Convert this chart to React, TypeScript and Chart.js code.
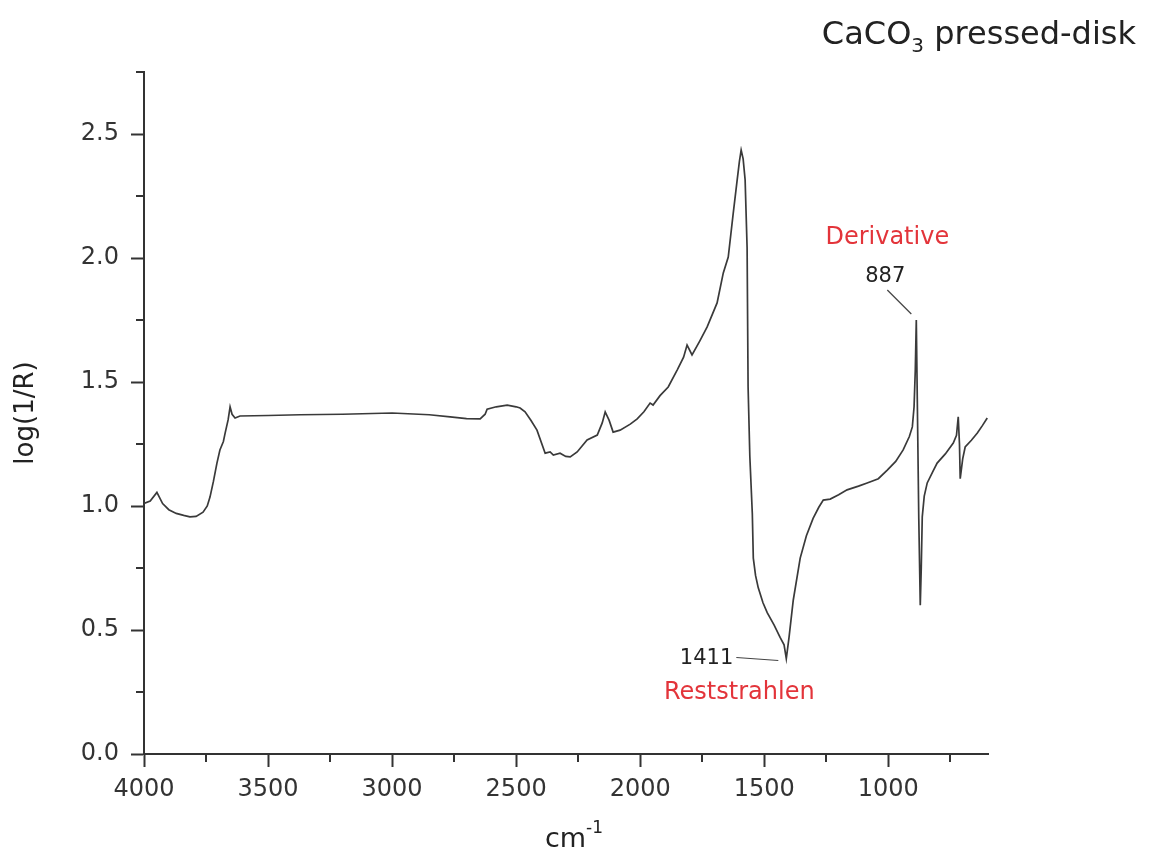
import React, { useEffect, useRef } from 'react';
import { Chart, registerables } from 'chart.js';

Chart.register(...registerables);

// ---- data ----
const wavenumbers = [
  4000, 3975, 3948, 3925, 3900, 3870, 3840, 3815, 3790, 3762, 3745, 3734, 3720, 3706, 3694, 3680,
  3673, 3661, 3653, 3645, 3633, 3613, 3500, 3371, 3200, 3000, 2850, 2766, 2700, 2645, 2625, 2617,
  2580, 2536, 2500, 2484, 2464, 2440, 2416, 2383, 2363, 2350, 2323, 2300, 2282, 2254, 2214, 2173,
  2153, 2141, 2125, 2109, 2081, 2040, 2012, 1985, 1960, 1948, 1920, 1887, 1850, 1825, 1811, 1791,
  1760, 1730, 1690, 1665, 1645, 1625, 1609, 1600, 1593, 1585, 1577, 1569, 1565, 1558, 1548, 1544,
  1535, 1524, 1505, 1488, 1460, 1436, 1420, 1411, 1400, 1383, 1355, 1330, 1303, 1280, 1262, 1234,
  1200, 1166, 1120, 1085, 1040, 1004, 970, 940, 915, 903, 896, 891, 887, 883, 877, 871, 867, 863,
  855, 843, 820, 803, 770, 738, 725, 718, 713, 710, 700, 690, 665, 641, 620, 601,
];
const logInvR = [
  1.01, 1.02, 1.055, 1.01, 0.985, 0.97, 0.962, 0.956, 0.958, 0.975, 1.0, 1.036, 1.1, 1.173, 1.226, 1.26,
  1.294, 1.347, 1.4, 1.37, 1.355, 1.363, 1.365, 1.368, 1.37, 1.375, 1.368, 1.359, 1.352, 1.351, 1.37, 1.39,
  1.4, 1.407, 1.4, 1.395, 1.38, 1.345, 1.306, 1.213, 1.218, 1.205, 1.213, 1.2, 1.198, 1.218, 1.266, 1.286,
  1.335, 1.379, 1.345, 1.298, 1.306, 1.33, 1.351, 1.38, 1.415, 1.407, 1.445, 1.48, 1.55, 1.6, 1.649, 1.609,
  1.665, 1.722, 1.819, 1.94, 2.004, 2.18, 2.315, 2.39, 2.435, 2.4, 2.315, 2.04, 1.48, 1.2, 0.97, 0.79,
  0.72, 0.67, 0.61, 0.57, 0.52, 0.47, 0.44, 0.385, 0.47, 0.62, 0.79, 0.88, 0.95, 0.995, 1.024, 1.028,
  1.045, 1.065, 1.08, 1.093, 1.11, 1.145, 1.18, 1.226, 1.28, 1.319, 1.4, 1.55, 1.75, 1.43, 0.95, 0.6, 0.75, 0.956,
  1.04, 1.093, 1.14, 1.173, 1.21, 1.254, 1.285, 1.36, 1.25, 1.11, 1.19, 1.238, 1.265, 1.294, 1.325, 1.355,
];

const xMajorTicks = [4000, 3500, 3000, 2500, 2000, 1500, 1000];
const yMajorTicks = [0, 0.5, 1.0, 1.5, 2.0, 2.5];

const peakDerivative = { wn: 887, value: 1.75, label: '887', note: 'Derivative' };
const peakReststrahlen = { wn: 1411, value: 0.385, label: '1411', note: 'Reststrahlen' };

const titleMain = 'CaCO';
const titleSub = '3';
const titleRest = ' pressed-disk';
const xTitle = 'cm';
const xTitleSup = '-1';
const yTitle = 'log(1/R)';

const FONT = 'DejaVu Sans';
const AXIS = '#333333';
const RED = '#e3343a';

const isMajor = (list: number[], v: number) => list.some((m) => Math.abs(m - v) < 1e-6);

const overlayPlugin = {
  id: 'overlay',
  afterDraw(chart: any) {
    const { ctx, chartArea, scales } = chart;
    const x = scales.x;
    const y = scales.y;
    ctx.save();

    // minor ticks
    ctx.strokeStyle = AXIS;
    ctx.lineWidth = 2;
    ctx.beginPath();
    x.ticks.forEach((t: any) => {
      if (!isMajor(xMajorTicks, t.value)) {
        const px = Math.round(x.getPixelForValue(t.value));
        ctx.moveTo(px, chartArea.bottom);
        ctx.lineTo(px, chartArea.bottom + 8);
      }
    });
    y.ticks.forEach((t: any) => {
      if (!isMajor(yMajorTicks, t.value)) {
        const py = Math.round(y.getPixelForValue(t.value));
        ctx.moveTo(chartArea.left, py);
        ctx.lineTo(chartArea.left - 8, py);
      }
    });
    ctx.stroke();

    // annotation: derivative peak
    {
      const px = x.getPixelForValue(peakDerivative.wn);
      const py = y.getPixelForValue(peakDerivative.value);
      ctx.strokeStyle = '#444';
      ctx.lineWidth = 1.2;
      ctx.beginPath();
      ctx.moveTo(px - 29, py - 30);
      ctx.lineTo(px - 5, py - 6);
      ctx.stroke();
      ctx.textAlign = 'center';
      ctx.textBaseline = 'middle';
      ctx.fillStyle = '#222';
      ctx.font = `21px "${FONT}"`;
      ctx.fillText(peakDerivative.label, px - 31, py - 43);
      ctx.fillStyle = RED;
      ctx.font = `24px "${FONT}"`;
      ctx.fillText(peakDerivative.note, px - 29, py - 82);
    }
    // annotation: reststrahlen minimum
    {
      const px = x.getPixelForValue(peakReststrahlen.wn);
      const py = y.getPixelForValue(peakReststrahlen.value);
      ctx.strokeStyle = '#444';
      ctx.lineWidth = 1.2;
      ctx.beginPath();
      ctx.moveTo(px - 50, py - 1);
      ctx.lineTo(px - 8, py + 2);
      ctx.stroke();
      ctx.textAlign = 'right';
      ctx.textBaseline = 'middle';
      ctx.fillStyle = '#222';
      ctx.font = `21px "${FONT}"`;
      ctx.fillText(peakReststrahlen.label, px - 53, py);
      ctx.textAlign = 'center';
      ctx.fillStyle = RED;
      ctx.font = `24px "${FONT}"`;
      ctx.fillText(peakReststrahlen.note, px - 47, py + 34);
    }

    // title (top right)
    {
      ctx.fillStyle = '#222';
      ctx.textBaseline = 'alphabetic';
      ctx.textAlign = 'left';
      const big = `32px "${FONT}"`;
      const small = `20px "${FONT}"`;
      ctx.font = big;
      const w1 = ctx.measureText(titleMain).width;
      const w3 = ctx.measureText(titleRest).width;
      ctx.font = small;
      const w2 = ctx.measureText(titleSub).width;
      const right = 1136;
      let cx = right - (w1 + w2 + w3);
      const base = 44;
      ctx.font = big;
      ctx.fillText(titleMain, cx, base);
      cx += w1;
      ctx.font = small;
      ctx.fillText(titleSub, cx, base + 8);
      cx += w2;
      ctx.font = big;
      ctx.fillText(titleRest, cx, base);
    }

    // x-axis title with superscript
    {
      ctx.fillStyle = '#222';
      ctx.textBaseline = 'alphabetic';
      ctx.textAlign = 'left';
      const big = `27px "${FONT}"`;
      const small = `17px "${FONT}"`;
      ctx.font = big;
      const w1 = ctx.measureText(xTitle).width;
      ctx.font = small;
      const w2 = ctx.measureText(xTitleSup).width;
      const center = 574;
      let cx = center - (w1 + w2) / 2;
      const base = 847;
      ctx.font = big;
      ctx.fillText(xTitle, cx, base);
      cx += w1;
      ctx.font = small;
      ctx.fillText(xTitleSup, cx, base - 14);
    }
    ctx.restore();
  },
};

export default function App() {
  const canvasRef = useRef<HTMLCanvasElement | null>(null);

  useEffect(() => {
    const canvas = canvasRef.current;
    if (!canvas) return;
    Chart.defaults.font.family = FONT;
    const points = wavenumbers.map((w, i) => ({ x: w, y: logInvR[i] }));
    const chart = new Chart(canvas, {
      type: 'line',
      data: {
        datasets: [
          {
            data: points,
            borderColor: '#3a3a3a',
            borderWidth: 1.7,
            pointRadius: 0,
            tension: 0,
            fill: false,
          },
        ],
      },
      options: {
        animation: false,
        responsive: false,
        devicePixelRatio: 1,
        layout: { padding: { top: 72, right: 165, bottom: 0, left: 0 } },
        plugins: {
          legend: { display: false },
          tooltip: { enabled: false },
          title: { display: false },
        },
        scales: {
          x: {
            type: 'linear',
            reverse: true,
            min: 598,
            max: 4000,
            afterFit: (s: any) => {
              s.height = 113;
            },
            border: { display: true, color: AXIS, width: 2 },
            grid: {
              drawOnChartArea: false,
              drawTicks: true,
              tickLength: 13,
              tickWidth: 2,
              tickColor: (c: any) => (c.tick && isMajor(xMajorTicks, c.tick.value) ? AXIS : 'rgba(0,0,0,0)'),
            },
            ticks: {
              stepSize: 250,
              includeBounds: false,
              autoSkip: false,
              maxRotation: 0,
              padding: 8,
              color: '#333',
              font: { size: 24, family: FONT },
              callback: (v: any) => (isMajor(xMajorTicks, Number(v)) ? String(v) : ''),
            },
          },
          y: {
            type: 'linear',
            min: 0,
            max: 2.75,
            afterFit: (s: any) => {
              s.width = 144;
            },
            border: { display: true, color: AXIS, width: 2 },
            grid: {
              drawOnChartArea: false,
              drawTicks: true,
              tickLength: 13,
              tickWidth: 2,
              tickColor: (c: any) => (c.tick && isMajor(yMajorTicks, c.tick.value) ? AXIS : 'rgba(0,0,0,0)'),
            },
            ticks: {
              stepSize: 0.25,
              autoSkip: false,
              padding: 12,
              color: '#333',
              font: { size: 24, family: FONT },
              callback: (v: any) => (isMajor(yMajorTicks, Number(v)) ? Number(v).toFixed(1) : ''),
            },
            title: {
              display: true,
              text: yTitle,
              color: '#222',
              font: { size: 26, family: FONT },
              padding: { top: 11, bottom: 0 },
            },
          },
        },
      },
      plugins: [overlayPlugin],
    });
    return () => chart.destroy();
  }, []);

  return (
    <div style={{ position: 'absolute', left: 0, top: 0, width: 1153, height: 867, background: '#fff' }}>
      <canvas ref={canvasRef} width={1153} height={867} style={{ display: 'block' }} />
    </div>
  );
}
